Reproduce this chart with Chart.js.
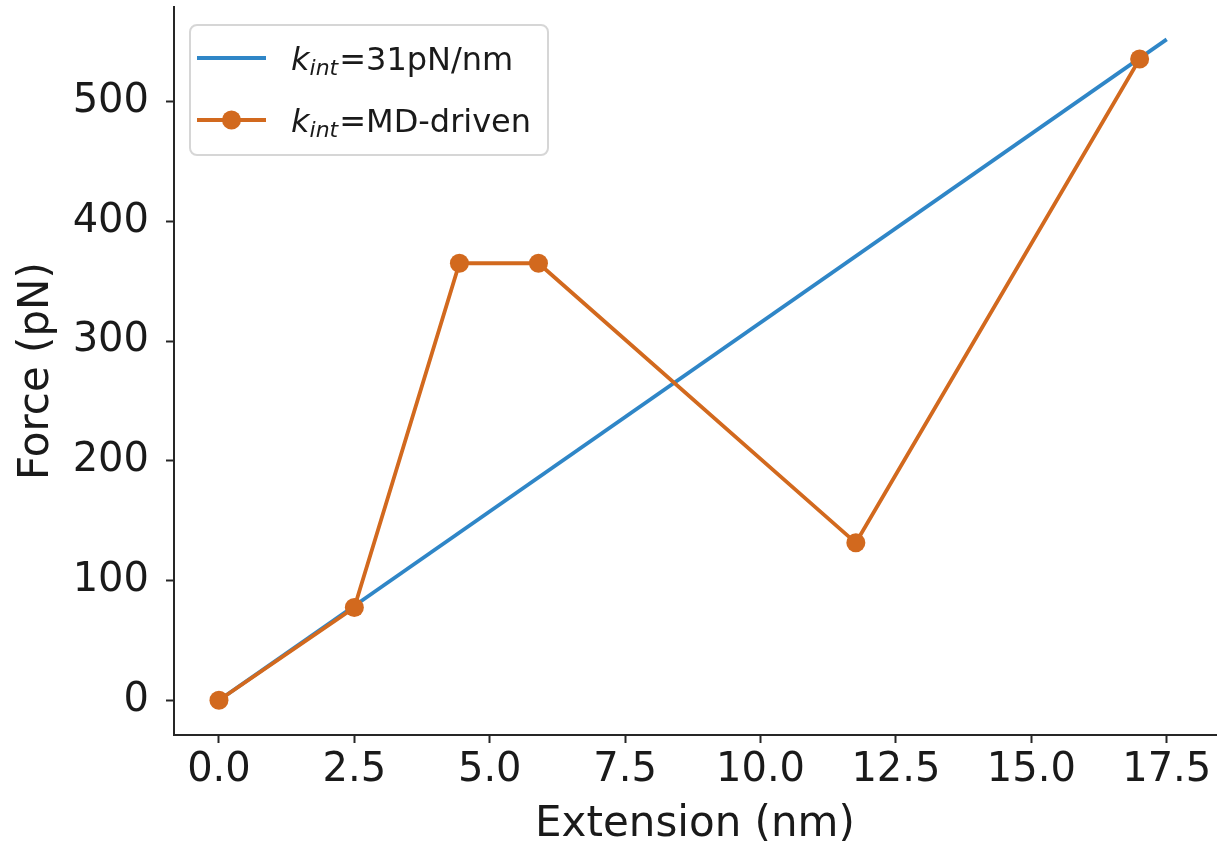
<!DOCTYPE html>
<html>
<head>
<meta charset="utf-8">
<script src="https://cdn.jsdelivr.net/npm/chart.js@4/dist/chart.umd.min.js"></script>
<style>
  html, body { margin: 0; padding: 0; background: #ffffff; }
  canvas { display: block; }
</style>
</head>
<body>
<canvas id="chart" width="1220" height="848"></canvas>
<script>
// Force-extension data (nm, pN)
const mdExtension = [0.0, 2.5, 4.44, 5.90, 11.76, 17.0];
const mdForce = [0, 77.5, 365, 365, 131.5, 535.5];

// Constant-stiffness reference line
const linExtension = [0.0, 17.5];
const linForce = [0, 552];

// Axis ticks
const xTicks = [0, 2.5, 5, 7.5, 10, 12.5, 15, 17.5];
const xTickLabels = ['0.0', '2.5', '5.0', '7.5', '10.0', '12.5', '15.0', '17.5'];
const yTicks = [0, 100, 200, 300, 400, 500];
const yTickLabels = ['0', '100', '200', '300', '400', '500'];

// Legend entries: [symbol, subscript, rest of label]
const legendLabels = [['k', 'int', '=31pN/nm'], ['k', 'int', '=MD-driven']];

const BLUE = '#2f86c7';
const ORANGE = '#d2691e';
const AXIS = '#262626';
const FONT = '"DejaVu Sans", "Liberation Sans", sans-serif';

const toPoints = (xs, ys) => xs.map((x, i) => ({ x: x, y: ys[i] }));

// Matplotlib-style legend box with an italic k and subscript
const mathLegend = {
  id: 'mathLegend',
  afterDatasetsDraw(chart) {
    const ctx = chart.ctx;
    const x0 = 190, y0 = 25, w = 358, h = 130, r = 7;
    ctx.save();
    ctx.beginPath();
    ctx.moveTo(x0 + r, y0);
    ctx.arcTo(x0 + w, y0, x0 + w, y0 + h, r);
    ctx.arcTo(x0 + w, y0 + h, x0, y0 + h, r);
    ctx.arcTo(x0, y0 + h, x0, y0, r);
    ctx.arcTo(x0, y0, x0 + w, y0, r);
    ctx.closePath();
    ctx.fillStyle = 'rgba(255,255,255,0.8)';
    ctx.fill();
    ctx.strokeStyle = 'rgba(204,204,204,0.8)';
    ctx.lineWidth = 2;
    ctx.stroke();

    const rows = [58, 120];
    const colors = [BLUE, ORANGE];
    rows.forEach((yy, i) => {
      ctx.strokeStyle = colors[i];
      ctx.lineWidth = 3.8;
      ctx.lineCap = 'butt';
      ctx.beginPath();
      ctx.moveTo(197, yy);
      ctx.lineTo(266, yy);
      ctx.stroke();
      if (i === 1) {
        ctx.fillStyle = ORANGE;
        ctx.beginPath();
        ctx.arc(231.5, yy, 9.5, 0, Math.PI * 2);
        ctx.fill();
      }
      const [sym, sub, rest] = legendLabels[i];
      const base = yy + 12;
      let tx = 291;
      ctx.fillStyle = '#1a1a1a';
      ctx.textBaseline = 'alphabetic';
      ctx.textAlign = 'left';
      ctx.font = 'oblique 32px ' + FONT;
      ctx.fillText(sym, tx, base);
      tx += ctx.measureText(sym).width;
      ctx.font = 'oblique 22px ' + FONT;
      ctx.fillText(sub, tx, base + 5);
      tx += ctx.measureText(sub).width + 1;
      ctx.font = '32px ' + FONT;
      ctx.fillText(rest, tx, base);
    });
    ctx.restore();
  }
};

new Chart(document.getElementById('chart'), {
  type: 'scatter',
  data: {
    datasets: [
      {
        label: 'k_int=MD-driven',
        data: toPoints(mdExtension, mdForce),
        showLine: true,
        borderColor: ORANGE,
        backgroundColor: ORANGE,
        borderWidth: 3.8,
        pointRadius: 9.5,
        pointHoverRadius: 9.5,
        pointBorderWidth: 0,
        tension: 0,
        order: 0
      },
      {
        label: 'k_int=31pN/nm',
        data: toPoints(linExtension, linForce),
        showLine: true,
        borderColor: BLUE,
        backgroundColor: BLUE,
        borderWidth: 3.8,
        pointRadius: 0,
        pointHoverRadius: 0,
        tension: 0,
        order: 1
      }
    ]
  },
  options: {
    responsive: false,
    animation: false,
    events: [],
    layout: { autoPadding: false, padding: { left: 0, top: 7, right: 4, bottom: 0 } },
    plugins: {
      legend: { display: false },
      tooltip: { enabled: false }
    },
    scales: {
      x: {
        type: 'linear',
        min: -0.83,
        max: 18.41,
        afterFit(scale) {
          scale.height = 113;
          scale.paddingLeft = 0;
          scale.paddingRight = 0;
        },
        afterBuildTicks(scale) { scale.ticks = xTicks.map(v => ({ value: v })); },
        border: { display: true, color: AXIS, width: 2 },
        grid: { display: true, drawOnChartArea: false, drawTicks: true, tickLength: 8, tickWidth: 2, tickColor: AXIS },
        ticks: {
          autoSkip: false, maxRotation: 0, minRotation: 0, padding: 4,
          color: '#1a1a1a',
          font: { family: FONT, size: 40, lineHeight: 1.2 },
          callback: (v) => { const i = xTicks.indexOf(v); return i >= 0 ? xTickLabels[i] : ''; }
        },
        title: {
          display: true, text: 'Extension (nm)', color: '#1a1a1a',
          font: { family: FONT, size: 42, lineHeight: 1.1 },
          padding: { top: 0, bottom: 0 }
        }
      },
      y: {
        type: 'linear',
        min: -29,
        max: 579,
        afterFit(scale) {
          scale.width = 174;
          scale.paddingTop = 0;
          scale.paddingBottom = 0;
        },
        afterBuildTicks(scale) { scale.ticks = yTicks.map(v => ({ value: v })); },
        border: { display: true, color: AXIS, width: 2 },
        grid: { display: true, drawOnChartArea: false, drawTicks: true, tickLength: 8, tickWidth: 2, tickColor: AXIS },
        ticks: {
          autoSkip: false, padding: 17,
          color: '#1a1a1a',
          font: { family: FONT, size: 40, lineHeight: 1.2 },
          callback: (v) => { const i = yTicks.indexOf(v); return i >= 0 ? yTickLabels[i] : ''; }
        },
        title: {
          display: true, text: 'Force (pN)', color: '#1a1a1a',
          font: { family: FONT, size: 42, lineHeight: 1.2 },
          padding: { top: 12, bottom: 0 }
        }
      }
    }
  },
  plugins: [mathLegend]
});
</script>
</body>
</html>
